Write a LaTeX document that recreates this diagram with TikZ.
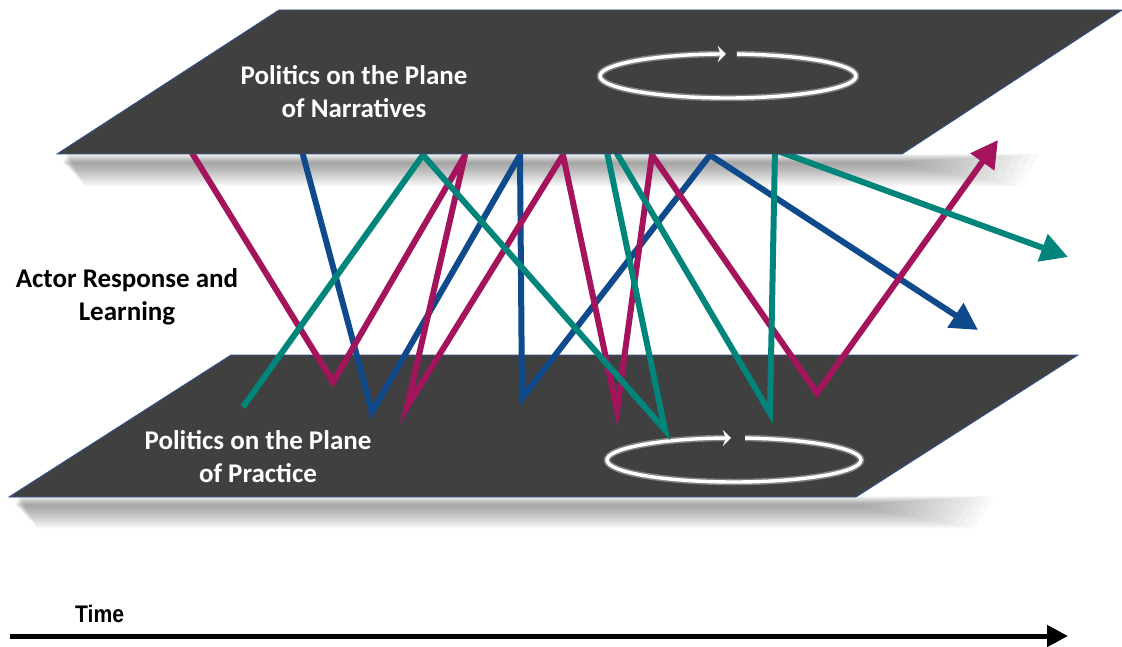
\documentclass[tikz,border=0pt]{standalone}
\usepackage{fontspec}
\setmainfont{Carlito}
\newfontfamily\timefont{Liberation Sans}[FakeStretch=0.88]
\usetikzlibrary{arrows.meta}

\definecolor{planefill}{HTML}{404040}
\definecolor{planeedge}{HTML}{34538F}
\definecolor{magline}{HTML}{A3145C}
\definecolor{bluline}{HTML}{0E4A8C}
\definecolor{tealine}{HTML}{00857A}

\begin{document}
\begin{tikzpicture}[x=1pt,y=-1pt,
  plane/.style={fill=planefill, draw=planeedge, line width=0.9pt, line join=miter},
  shadowlayer/.style={fill=black, opacity=0.024},
  track/.style={line width=6pt, line join=miter,
      -{Triangle[length=27pt,width=28pt]},
      preaction={draw=black, opacity=0.22, transform canvas={shift={(1.6,2.2)}}}},
  cyclering/.style={draw=white, line width=3.4pt,
      -{Stealth[length=8pt,width=16pt,inset=3pt]},
      preaction={draw=white, opacity=0.35, line width=6.5pt}},
  lbl/.style={font=\bfseries\fontsize{27}{33}\selectfont, align=center, inner sep=0pt},
]
\useasboundingbox (0,0) rectangle (1122,647);

% ---- soft shadows beneath the two planes, built from faint stacked layers
\foreach \i in {1,...,18} {
  \fill[shadowlayer] (62+0.3*\i,163-0.5*\i) -- (895+8*\i,163-0.5*\i)
    -- (895+7*\i,163+1.3*\i) -- (64+1.2*\i,163+1.3*\i) -- cycle;
  \fill[shadowlayer] (14+0.3*\i,505-0.5*\i) -- (850+8*\i,505-0.5*\i)
    -- (850+7*\i,505+1.3*\i) -- (16+1.2*\i,505+1.3*\i) -- cycle;
}

% ---- lower plane: practice
\path[plane] (9,497) coordinate (pbl) -- (856,497) coordinate (pbr)
  -- (1078,355) coordinate (ptr) -- (231,355) coordinate (ptl) -- cycle;
\node[lbl, text=white] (practice) at (258,457) {Politics on the Plane\\of Practice};
\coordinate (pc) at (734,460);
\draw[cyclering] (pc) ++(-85:127 and 22) arc[start angle=-85, end angle=268.6, x radius=127, y radius=22];

% ---- vertices of the actor trajectories
\coordinate (m0) at (184,140);  \coordinate (m1) at (333,382);
\coordinate (m2) at (465,155);  \coordinate (m3) at (407,407);
\coordinate (m4) at (563,155);  \coordinate (m5) at (617,410);
\coordinate (m6) at (652,155);  \coordinate (m7) at (817,393);
\coordinate (m8) at (998,140);

\coordinate (b0) at (299,140);  \coordinate (b1) at (372,412);
\coordinate (b2) at (520,155);  \coordinate (b3) at (522,398);
\coordinate (b4) at (710,155);  \coordinate (b5) at (978,330);

\coordinate (t0) at (243,407);  \coordinate (t1) at (423,155);
\coordinate (t2) at (665,430);  \coordinate (t3) at (602,128);
\coordinate (t4) at (770,413);  \coordinate (t5) at (775,150);
\coordinate (t6) at (1068,257);

\draw[track, bluline] (b0) -- (b1) -- (b2) -- (b3) -- (b4) -- (b5);
\draw[track, magline] (m0) -- (m1) -- (m2) -- (m3) -- (m4) -- (m5) -- (m6) -- (m7) -- (m8);
\draw[track, tealine] (t0) -- (t1) -- (t2) -- (t3) -- (t4) -- (t5) -- (t6);

% ---- upper plane: narratives
\path[plane] (57,154) coordinate (nbl) -- (902,154) coordinate (nbr)
  -- (1122,10) coordinate (ntr) -- (279,10) coordinate (ntl) -- cycle;
\node[lbl, text=white] (narratives) at (354,92) {Politics on the Plane\\of Narratives};
\coordinate (nc) at (728,76);
\draw[cyclering] (nc) ++(-86:128 and 22) arc[start angle=-86, end angle=269, x radius=128, y radius=22];

% ---- side label
\node[lbl, text=black] (actors) at (127,297) {Actor Response and\\Learning};

% ---- time axis
\coordinate (ts) at (10,636);
\coordinate (te) at (1068,636);
\draw[line width=5pt, -{Triangle[length=21pt,width=21pt]}] (ts) -- (te);
\node[font=\timefont\bfseries\fontsize{24}{28}\selectfont, anchor=base west, inner sep=0pt] (time) at (75,622) {Time};
\end{tikzpicture}
\end{document}
